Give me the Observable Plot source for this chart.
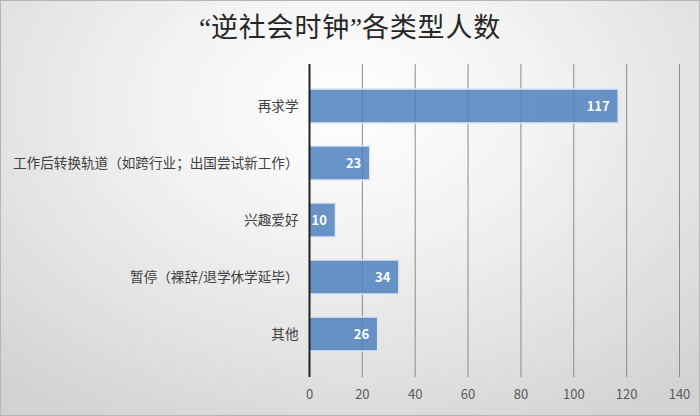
<!DOCTYPE html>
<html>
<head>
<meta charset="utf-8">
<script src="https://cdn.jsdelivr.net/npm/d3@7"></script>
<script src="https://cdn.jsdelivr.net/npm/@observablehq/plot@0.6"></script>
<style>
  html, body { margin: 0; padding: 0; }
  #wrap {
    position: relative; width: 698px; height: 414px; border: 1px solid #b5b5b5;
    background: radial-gradient(ellipse 75% 90% at 50% 25%, #ffffff 0%, #f3f3f3 35%, #e2e2e2 70%, #d2d2d2 100%);
    font-family: "Noto Sans CJK SC", sans-serif; overflow: hidden;
  }
  #title { height: 54px; line-height: 54px; text-align: center; font-size: 27px; color: #262626; letter-spacing: 0.8px; margin-top: -2px; margin-bottom: 2px;}
  #title .q { font-family: "Liberation Serif", serif; letter-spacing: 0; }
  svg { background: transparent !important; }
</style>
</head>
<body>
<div id="wrap"><div id="title"><span class="q">“</span>逆社会时钟<span class="q">”</span>各类型人数</div><div id="chart"></div></div>
<script>
const categories = ["再求学", "工作后转换轨道（如跨行业；出国尝试新工作）", "兴趣爱好", "暂停（裸辞/退学休学延毕）", "其他"];
const values = [117, 23, 10, 34, 26];
const xTicks = [0, 20, 40, 60, 80, 100, 120, 140];
const data = categories.map((c, i) => ({category: c, value: values[i]}));

const chart = Plot.plot({
  width: 698, height: 360,
  marginTop: 9, marginBottom: 38, marginLeft: 308, marginRight: 20,
  style: {fontFamily: "'Noto Sans CJK SC', sans-serif", fontSize: "13px", color: "#404040", background: "transparent"},
  x: {domain: [0, 140], ticks: xTicks, label: null},
  y: {domain: categories, label: null, padding: 0.4},
  marks: [
    Plot.gridX(xTicks, {stroke: "#8c8c8c", strokeOpacity: 1, strokeWidth: 1}),
    Plot.axisX({ticks: xTicks, tickSize: 0, tickPadding: 12, fontSize: 13, fill: "#595959", label: null}),
    Plot.axisY({tickSize: 0, tickPadding: 11, fontSize: 13.6, fill: "#404040", label: null}),
    Plot.barX(data, {x: "value", y: "category", fill: "#4f81bd", fillOpacity: 0.85, stroke: "#dfe8f3", strokeWidth: 1.5}),
    Plot.ruleX([0], {stroke: "#222", strokeWidth: 2}),
    Plot.text(data, {x: "value", y: "category", text: d => String(d.value), textAnchor: "end", dx: -9, fill: "white", fontWeight: "bold", fontSize: 13})
  ]
});
document.getElementById("chart").appendChild(chart);
</script>
</body>
</html>
